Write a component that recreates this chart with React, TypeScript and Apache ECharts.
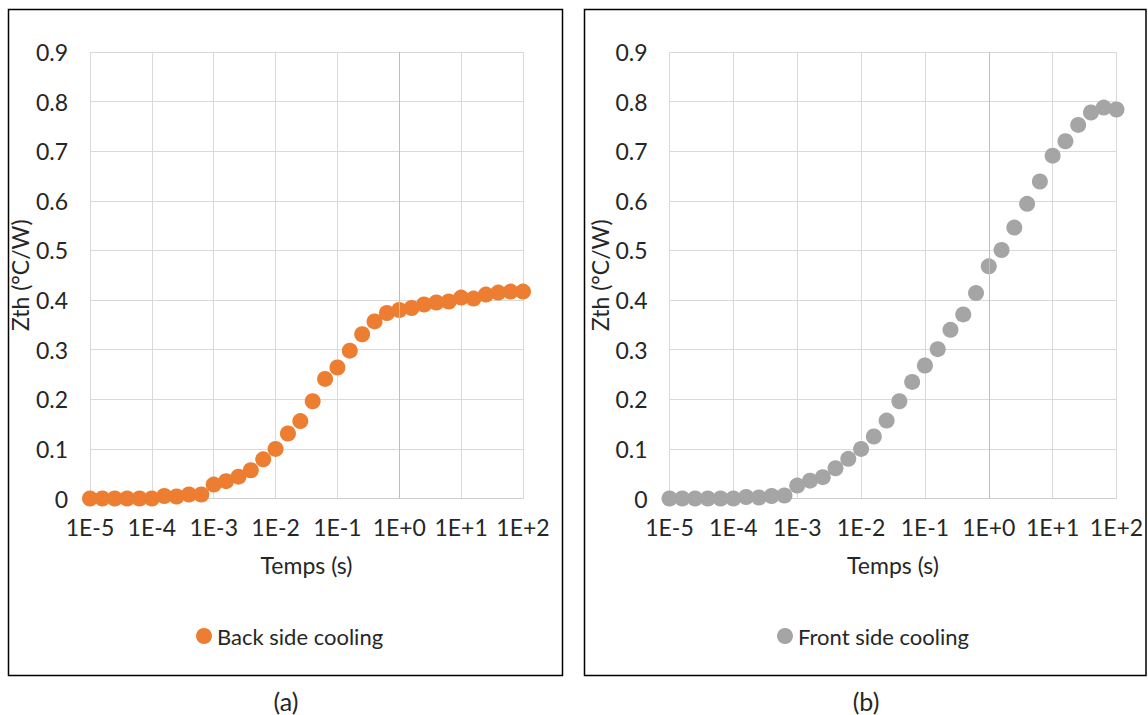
import React, { useEffect, useRef } from "react";
import * as echarts from "echarts";

const times = [
  1e-5, 1.585e-5, 2.512e-5, 3.981e-5, 6.31e-5,
  1e-4, 1.585e-4, 2.512e-4, 3.981e-4, 6.31e-4,
  1e-3, 1.585e-3, 2.512e-3, 3.981e-3, 6.31e-3,
  1e-2, 1.585e-2, 2.512e-2, 3.981e-2, 6.31e-2,
  1e-1, 1.585e-1, 2.512e-1, 3.981e-1, 6.31e-1,
  1, 1.585, 2.512, 3.981, 6.31,
  10, 15.85, 25.12, 39.81, 63.1,
  100,
];

const backSide = [
  0, 0, 0, 0, 0,
  0, 0.005, 0.004, 0.008, 0.008,
  0.028, 0.035, 0.044, 0.057, 0.079,
  0.1, 0.131, 0.156, 0.196, 0.241,
  0.264, 0.298, 0.331, 0.357, 0.374,
  0.38, 0.384, 0.391, 0.395, 0.397,
  0.405, 0.403, 0.411, 0.415, 0.417,
  0.417,
];

const frontSide = [
  0, 0, 0, 0, 0,
  0, 0.003, 0.002, 0.005, 0.006,
  0.026, 0.036, 0.043, 0.061, 0.08,
  0.1, 0.125, 0.157, 0.196, 0.235,
  0.268, 0.301, 0.34, 0.371, 0.414,
  0.468, 0.501, 0.546, 0.594, 0.639,
  0.691, 0.72, 0.753, 0.778, 0.788,
  0.784,
];

const xTickLabels = ["1E-5", "1E-4", "1E-3", "1E-2", "1E-1", "1E+0", "1E+1", "1E+2"];
const yTickLabels = ["0", "0.1", "0.2", "0.3", "0.4", "0.5", "0.6", "0.7", "0.8", "0.9"];
const seriesNames = ["Back side cooling", "Front side cooling"];
const panelLabels = ["(a)", "(b)"];
const colors = ["#ED7D31", "#A5A5A5"];

const FONT = "Lato";
const FS = 23;
const TEXT = "#262626";

export default function App() {
  const ref = useRef<HTMLDivElement>(null);

  useEffect(() => {
    if (!ref.current) return;
    const chart = echarts.init(ref.current, null, { renderer: "svg" });

    const xAxisBase = (gridIndex: number) => ({
      type: "log",
      logBase: 10,
      gridIndex,
      min: 1e-5,
      max: 100,
      name: "Temps (s)",
      nameLocation: "middle",
      nameGap: 55,
      nameTextStyle: { fontFamily: FONT, fontSize: FS, color: TEXT },
      axisLine: { show: true, lineStyle: { color: "#D0D0D0", width: 1 } },
      axisTick: { show: false },
      splitLine: { show: true, lineStyle: { color: "#D9D9D9", width: 1 } },
      minorTick: { show: false },
      axisLabel: {
        fontFamily: FONT,
        fontSize: FS,
        color: TEXT,
        margin: 17,
        formatter: (v: number) => {
          const e = Math.round(Math.log10(v));
          return xTickLabels[e + 5] ?? "";
        },
      },
    });

    const yAxisBase = (gridIndex: number) => ({
      type: "value",
      gridIndex,
      min: 0,
      max: 0.9,
      interval: 0.1,
      name: "Zth (°C/W)",
      nameLocation: "middle",
      nameGap: 43,
      nameTextStyle: { fontFamily: FONT, fontSize: FS, color: TEXT },
      axisLine: { show: false },
      axisTick: { show: false },
      splitLine: { show: true, lineStyle: { color: "#D9D9D9", width: 1 } },
      axisLabel: {
        fontFamily: FONT,
        fontSize: FS,
        color: TEXT,
        margin: 22,
        formatter: (v: number) => yTickLabels[Math.round(v * 10)] ?? "",
      },
    });

    const dataFor = (vals: number[]) => times.map((t, i) => [t, vals[i]]);

    const markLineAtOne = {
      silent: true,
      symbol: "none",
      label: { show: false },
      lineStyle: { color: "#BFBFBF", width: 1, type: "solid" },
      data: [{ xAxis: 1 }],
    };

    const legendBase = {
      icon: "circle",
      itemWidth: 16,
      itemHeight: 16,
      itemGap: 6,
      top: 620,
      textStyle: { fontFamily: FONT, fontSize: 22, color: TEXT },
    };

    const panelText = (text: string, x: number) => ({
      type: "text",
      x,
      y: 701,
      style: {
        text,
        fontFamily: FONT,
        fontSize: 25,
        fill: TEXT,
        align: "center",
        verticalAlign: "middle",
      },
    });

    chart.setOption({
      animation: false,
      backgroundColor: "#ffffff",
      grid: [
        { left: 90, right: 625, top: 52, bottom: 216.5 },
        { left: 669.5, right: 31.5, top: 52, bottom: 216.5 },
      ],
      xAxis: [xAxisBase(0), xAxisBase(1)],
      yAxis: [yAxisBase(0), yAxisBase(1)],
      legend: [
        { ...legendBase, data: [seriesNames[0]], left: 191 },
        { ...legendBase, data: [seriesNames[1]], left: 772 },
      ],
      graphic: [
        {
          type: "rect",
          shape: { x: 8.5, y: 9.5, width: 554, height: 666 },
          style: { fill: "none", stroke: "#000", lineWidth: 1.5 },
          silent: true,
        },
        {
          type: "rect",
          shape: { x: 584.5, y: 9.5, width: 561.5, height: 666 },
          style: { fill: "none", stroke: "#000", lineWidth: 1.5 },
          silent: true,
        },
        panelText(panelLabels[0], 286),
        panelText(panelLabels[1], 866),
      ],
      series: [
        {
          name: seriesNames[0],
          type: "scatter",
          xAxisIndex: 0,
          yAxisIndex: 0,
          data: dataFor(backSide),
          symbol: "circle",
          symbolSize: 16,
          itemStyle: { color: colors[0], opacity: 1 },
          markLine: markLineAtOne,
        },
        {
          name: seriesNames[1],
          type: "scatter",
          xAxisIndex: 1,
          yAxisIndex: 1,
          data: dataFor(frontSide),
          symbol: "circle",
          symbolSize: 16,
          itemStyle: { color: colors[1], opacity: 1 },
          markLine: markLineAtOne,
        },
      ],
    });

    return () => chart.dispose();
  }, []);

  return (
    <div
      ref={ref}
      style={{ position: "absolute", left: 0, top: 0, width: 1148, height: 715, background: "#fff" }}
    />
  );
}
